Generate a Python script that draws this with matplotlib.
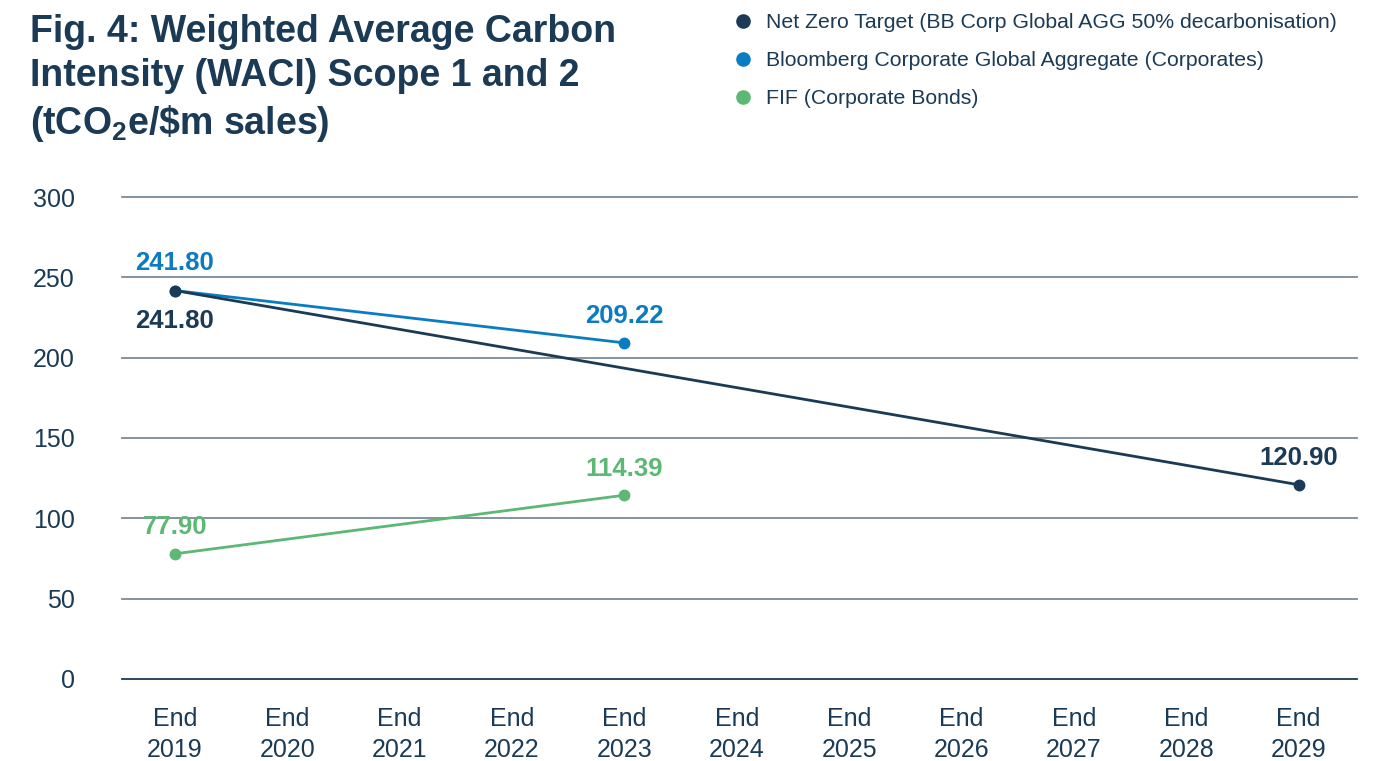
import matplotlib.pyplot as plt
from matplotlib.lines import Line2D

plt.rcParams['font.family'] = ['Liberation Sans', 'DejaVu Sans']
plt.rcParams['mathtext.fontset'] = 'custom'
plt.rcParams['mathtext.rm'] = 'Liberation Sans:bold'
plt.rcParams['mathtext.default'] = 'rm'

# Data
years = ['End\n2019', 'End\n2020', 'End\n2021', 'End\n2022', 'End\n2023', 'End\n2024',
         'End\n2025', 'End\n2026', 'End\n2027', 'End\n2028', 'End\n2029']
net_zero_idx = [0, 10]
net_zero_vals = [241.80, 120.90]
bloomberg_idx = [0, 4]
bloomberg_vals = [241.80, 209.22]
fif_idx = [0, 4]
fif_vals = [77.90, 114.39]

navy = '#1b3a55'
blue = '#0a7cc1'
green = '#5cb874'
grid_grey = '#7a8a98'

fig = plt.figure(figsize=(13.77, 7.61), dpi=100)
ax = fig.add_axes([0.0886, 0.1078, 0.8969, 0.6333])

ax.plot(bloomberg_idx, bloomberg_vals, color=blue, lw=2, marker='o', ms=7.5, zorder=3)
ax.plot(fif_idx, fif_vals, color=green, lw=2, marker='o', ms=7.5, zorder=3)
ax.plot(net_zero_idx, net_zero_vals, color=navy, lw=2, marker='o', ms=7.5, zorder=4)

# value labels
lab = dict(ha='center', va='center', fontsize=18.5, fontweight='bold',
           textcoords='offset points')
ax.annotate(f'{bloomberg_vals[0]:.2f}', (bloomberg_idx[0], bloomberg_vals[0]),
            xytext=(0, 19.5), color=blue, **lab)
ax.annotate(f'{bloomberg_vals[1]:.2f}', (bloomberg_idx[1], bloomberg_vals[1]),
            xytext=(0, 19), color=blue, **lab)
ax.annotate(f'{net_zero_vals[0]:.2f}', (net_zero_idx[0], net_zero_vals[0]),
            xytext=(0, -22), color=navy, **lab)
ax.annotate(f'{net_zero_vals[1]:.2f}', (net_zero_idx[1], net_zero_vals[1]),
            xytext=(0, 19), color=navy, **lab)
for i, v in zip(fif_idx, fif_vals):
    ax.annotate(f'{v:.2f}', (i, v), xytext=(0, 19), color=green, **lab)

ax.set_xlim(-0.47, 10.52)
ax.set_ylim(0, 300)
ax.set_xticks(range(len(years)))
ax.set_xticklabels(years, linespacing=1.4)
ax.set_yticks(range(0, 301, 50))
ax.tick_params(axis='both', length=0, labelsize=18, labelcolor=navy)
ax.tick_params(axis='y', pad=34)
ax.tick_params(axis='x', pad=20)
ax.grid(axis='y', color=grid_grey, lw=1.3)
for gl in ax.get_ygridlines():
    gl.set_clip_on(False)
ax.get_ygridlines()[0].set_color(navy)
ax.set_axisbelow(True)
for s in ax.spines.values():
    s.set_visible(False)

fig.text(0.022, 0.982, 'Fig. 4: Weighted Average Carbon\nIntensity (WACI) Scope 1 and 2\n(tCO$_2$e/\\$m sales)',
         ha='left', va='top', fontsize=27, fontweight='bold', color=navy, linespacing=1.3)

handles = [Line2D([], [], ls='none', marker='o', ms=9.5, color=c) for c in (navy, blue, green)]
labels = ['Net Zero Target (BB Corp Global AGG 50% decarbonisation)',
          'Bloomberg Corporate Global Aggregate (Corporates)',
          'FIF (Corporate Bonds)']
leg = fig.legend(handles, labels, loc='upper left', bbox_to_anchor=(0.518, 1.008),
                 frameon=False, fontsize=15.3, handletextpad=0.6, labelspacing=0.9,
                 handlelength=1.0)
for t in leg.get_texts():
    t.set_color(navy)

fig.savefig('out.png', dpi=100)
